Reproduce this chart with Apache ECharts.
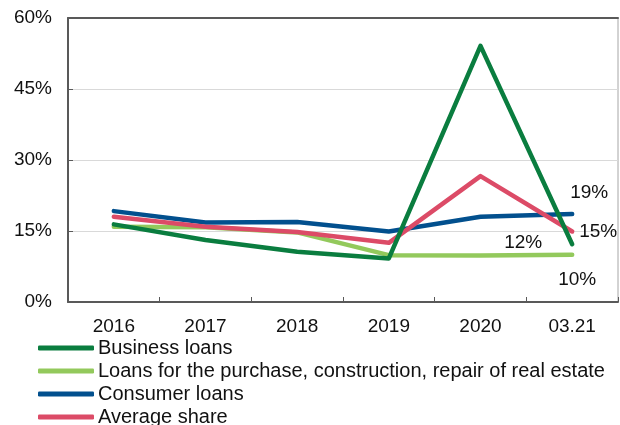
<!DOCTYPE html>
<html>
<head>
<meta charset="utf-8">
<script src="https://cdn.jsdelivr.net/npm/echarts@6/dist/echarts.min.js"></script>
<style>
  html, body { margin: 0; padding: 0; background: #fff; }
  #chart { width: 620px; height: 425px; }
</style>
</head>
<body>
<div id="chart"></div>
<script>
// Share of loans by purpose, %
const categories = ['2016', '2017', '2018', '2019', '2020', '03.21'];
const businessLoans = [16.4, 13.1, 10.6, 9.2, 54.1, 12.2];
const realEstateLoans = [15.9, 15.8, 14.7, 9.9, 9.8, 10.0];
const consumerLoans = [19.2, 16.8, 16.9, 14.9, 18.0, 18.6];
const averageShare = [18.0, 15.9, 14.8, 12.5, 26.6, 14.9];
const yTicks = [0, 15, 30, 45, 60];

const FONT = 'Liberation Sans, Arial, sans-serif';
const AXIS_FONT_SIZE = 19;
const LEGEND_FONT_SIZE = 20;

// Value label on the last point of each series
function withEndLabel(values, offset) {
  return values.map((v, i) => {
    if (i !== values.length - 1) return v;
    return {
      value: v,
      label: {
        show: true,
        position: 'inside',
        align: 'center',
        verticalAlign: 'middle',
        offset: offset,
        formatter: p => Math.round(p.value) + '%',
        fontFamily: FONT,
        fontSize: AXIS_FONT_SIZE,
        color: '#111'
      }
    };
  });
}

function lineSeries(name, color, data, offset) {
  return {
    name: name,
    type: 'line',
    data: withEndLabel(data, offset),
    symbol: 'circle',
    symbolSize: 0,
    showSymbol: true,
    lineStyle: { color: color, width: 4.5, cap: 'round', join: 'round' },
    itemStyle: { color: color },
    emphasis: { disabled: true },
    animation: false
  };
}

const chart = echarts.init(document.getElementById('chart'), null, { renderer: 'canvas' });
chart.setOption({
  backgroundColor: '#fff',
  animation: false,
  grid: { left: 68, right: 2, top: 18, bottom: 123, show: true, borderColor: '#a6a6a6', borderWidth: 1 },
  legend: {
    orient: 'vertical',
    left: 38,
    top: 338,
    height: 200,
    padding: 0,
    itemWidth: 56,
    itemHeight: 5,
    itemGap: 3,
    icon: 'roundRect',
    textStyle: { fontFamily: FONT, fontSize: LEGEND_FONT_SIZE, color: '#111', lineHeight: 20, padding: [0, 0, 0, -1] },
    data: ['Business loans', 'Loans for the purchase, construction, repair of real estate', 'Consumer loans', 'Average share']
  },
  xAxis: [{
    type: 'category',
    data: categories,
    boundaryGap: true,
    axisLine: { lineStyle: { color: '#595959', width: 2 } },
    axisTick: { show: true, inside: true, length: 5, lineStyle: { color: '#595959', width: 1 } },
    axisLabel: { fontFamily: FONT, fontSize: AXIS_FONT_SIZE, color: '#111', margin: 15 }
  }, {
    type: 'category',
    data: categories,
    position: 'top',
    axisLine: { lineStyle: { color: '#595959', width: 2 } },
    axisTick: { show: false },
    axisLabel: { show: false }
  }],
  yAxis: {
    type: 'value',
    min: yTicks[0],
    max: yTicks[yTicks.length - 1],
    interval: 15,
    axisLine: { show: true, lineStyle: { color: '#595959', width: 2 } },
    axisTick: { show: true, inside: true, length: 5, lineStyle: { color: '#595959', width: 1 } },
    splitLine: { show: true, lineStyle: { color: '#d9d9d9', width: 1 } },
    axisLabel: { fontFamily: FONT, fontSize: AXIS_FONT_SIZE, color: '#111', margin: 16, formatter: v => v + '%' }
  },
  series: [
    lineSeries('Loans for the purchase, construction, repair of real estate', '#93c95c', realEstateLoans, [5, 25]),
    lineSeries('Consumer loans', '#02508e', consumerLoans, [17, -21]),
    lineSeries('Average share', '#dc4b67', averageShare, [26, 0]),
    lineSeries('Business loans', '#0a7d3f', businessLoans, [-49, -1])
  ]
});
</script>
</body>
</html>
